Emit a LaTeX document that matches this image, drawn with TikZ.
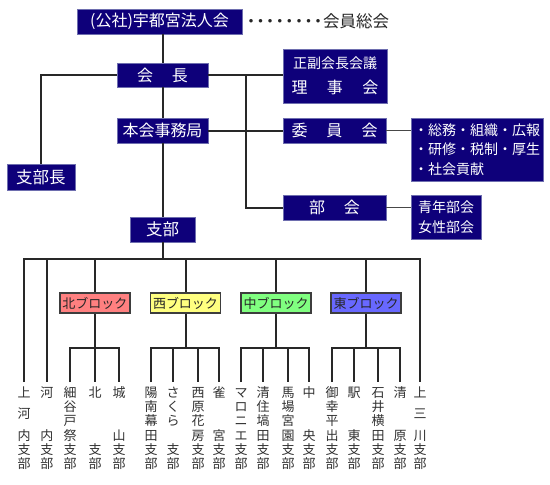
\documentclass[tikz,border=0pt]{standalone}
\usepackage{fontspec}
\setmainfont{Noto Sans CJK JP}
\definecolor{navyfill}{RGB}{14,0,122}
\definecolor{navyedge}{RGB}{110,110,175}
\definecolor{linec}{RGB}{40,40,40}
\definecolor{leafc}{RGB}{50,50,50}
\definecolor{northc}{RGB}{255,128,128}
\definecolor{westc}{RGB}{255,255,128}
\definecolor{midc}{RGB}{128,255,128}
\definecolor{eastc}{RGB}{104,104,255}
\newcommand{\agmdot}{\makebox[9.6pt]{・}}
\newcommand{\lfs}{\rule{0pt}{12pt}}
\begin{document}
\begin{tikzpicture}[x=1pt,y=-1pt,
  navybox/.style={fill=navyfill, draw=navyedge, line width=0.8pt, text=white, inner sep=0pt, font=\fontsize{16}{16}\selectfont},
  conn/.style={draw=linec, line width=2pt, line join=miter},
  thinconn/.style={draw=linec!85, line width=1.1pt},
  blockbox/.style={draw=linec!90, line width=1.6pt, minimum width=70pt, minimum height=20pt, inner sep=0pt, text=black!85, font=\fontsize{13}{13}\selectfont},
  leaf/.style={anchor=north, inner sep=0pt, text=leafc, align=center, font=\fontsize{13}{14.27}\selectfont}]
\fill[white] (0,0) rectangle (550,485);
\useasboundingbox (0,0) rectangle (550,485);

% upper nodes
\node[navybox, minimum width=165pt, minimum height=25pt] (top) at (159.5,21.5) {(公社)宇都宮法人会};
\node[anchor=west, inner sep=0pt, text=black!85, font=\fontsize{16.5}{16.5}\selectfont] (agm) at (246,21.5) {\agmdot\agmdot\agmdot\agmdot\agmdot\agmdot\agmdot\agmdot 会員総会};
\node[navybox, minimum width=91pt, minimum height=24pt] (chair) at (162.5,75) {会\hspace{19pt}長};
\node[navybox, minimum width=104pt, minimum height=54pt, align=center, font=\fontsize{14}{25}\selectfont] (vice) at (335,76) {正副会長会議\\{\fontsize{16}{25}\selectfont 理\hspace{19.5pt}事\hspace{19.5pt}会}};
\node[navybox, minimum width=91pt, minimum height=25pt] (office) at (162.5,130.5) {本会事務局};
\node[navybox, minimum width=103pt, minimum height=25pt] (comm) at (334.5,130.5) {委\hspace{19pt}員\hspace{19pt}会};
\node[navybox, minimum width=103pt, minimum height=25pt] (bukai) at (334.5,207.5) {部\hspace{19pt}会};
\node[navybox, minimum width=132pt, minimum height=63pt, text width=126pt, inner xsep=3pt, align=left, font=\fontsize{14}{19.5}\selectfont] (commlist) at (477,149.5) {・総務・組織・広報\\・研修・税制・厚生\\・社会貢献};
\node[navybox, minimum width=70pt, minimum height=44pt, align=center, font=\fontsize{14}{20}\selectfont] (bukailist) at (446,217) {青年部会\\女性部会};
\node[navybox, minimum width=68pt, minimum height=26pt, font=\fontsize{16.5}{16.5}\selectfont] (shibucho) at (41,177) {支部長};
\node[navybox, minimum width=65pt, minimum height=25pt, font=\fontsize{16.5}{16.5}\selectfont] (shibu) at (162.5,229.5) {支部};

\coordinate (jx) at (246,0);
\coordinate (busy) at (0,259);
\coordinate (suby) at (0,348);

% upper connectors
\draw[conn] (top.south -| chair.north) -- (chair.north);
\draw[conn] (chair.west) -| (shibucho.north);
\draw[conn] (chair.east) -- (chair.east -| vice.west);
\draw[conn] (chair.east -| jx) |- (bukai.west);
\draw[conn] (chair.south) -- (office.north);
\draw[conn] (office.south) -- (shibu.north);
\draw[conn] (office.east) -- (office.east -| comm.west);
\draw[thinconn] (comm.east) -- (comm.east -| commlist.west);
\draw[thinconn] (bukai.east) -- (bukai.east -| bukailist.west);
\draw[conn] (shibu.south) -- (shibu.south |- busy);

% blocks
\node[blockbox, fill=northc] (bN) at (95,303) {北ブロック};
\node[blockbox, fill=westc] (bW) at (185.5,303) {西ブロック};
\node[blockbox, fill=midc] (bC) at (276,303) {中ブロック};
\node[blockbox, fill=eastc] (bE) at (366,303) {東ブロック};

% leaves
\node[leaf] (lA) at (24,385) {\lfs 上\\[7.13pt]河\\[7.13pt]内\\支\\部};
\node[leaf] (lB) at (47,385) {\lfs 河\\[28.54pt]内\\支\\部};
\node[leaf] (n1) at (70,385) {\lfs 細\\谷\\戸\\祭\\支\\部};
\node[leaf] (n2) at (95,385) {\lfs 北\\[42.81pt]支\\部};
\node[leaf] (n3) at (119,385) {\lfs 城\\[28.54pt]山\\支\\部};
\node[leaf] (w1) at (151,385) {\lfs 陽\\南\\幕\\田\\支\\部};
\node[leaf] (w2) at (173,385) {\lfs さ\\く\\ら\\[14.27pt]支\\部};
\node[leaf] (w3) at (198,385) {\lfs 西\\原\\花\\房\\支\\部};
\node[leaf] (w4) at (219,385) {\lfs 雀\\[28.54pt]宮\\支\\部};
\node[leaf] (c1) at (241,385) {\lfs マ\\ロ\\ニ\\エ\\支\\部};
\node[leaf] (c2) at (263,385) {\lfs 清\\住\\塙\\田\\支\\部};
\node[leaf] (c3) at (288,385) {\lfs 馬\\場\\宮\\園\\支\\部};
\node[leaf] (c4) at (309,385) {\lfs 中\\[28.54pt]央\\支\\部};
\node[leaf] (e1) at (332,385) {\lfs 御\\幸\\平\\出\\支\\部};
\node[leaf] (e2) at (354,385) {\lfs 駅\\[28.54pt]東\\支\\部};
\node[leaf] (e3) at (378,385) {\lfs 石\\井\\横\\田\\支\\部};
\node[leaf] (e4) at (400,385) {\lfs 清\\[28.54pt]原\\支\\部};
\node[leaf] (lS) at (420,385) {\lfs 上\\[7.13pt]三\\[7.13pt]川\\支\\部};

% main bus
\draw[conn] ([yshift=3pt]lA.north) -- (lA.north |- busy) -- (lS.north |- busy) -- ([yshift=3pt]lS.north);
\draw[conn] (lB.north |- busy) -- ([yshift=3pt]lB.north);
\foreach \b in {bN,bW,bC,bE}{\draw[conn] (\b.north |- busy) -- (\b.north);}

% sub buses
\draw[conn] ([yshift=3pt]n1.north) -- (n1.north |- suby) -- (n3.north |- suby) -- ([yshift=3pt]n3.north);
\draw[conn] (bN.south) -- (bN.south |- suby);
\draw[conn] (n2.north |- suby) -- ([yshift=3pt]n2.north);

\draw[conn] ([yshift=3pt]w1.north) -- (w1.north |- suby) -- (w4.north |- suby) -- ([yshift=3pt]w4.north);
\draw[conn] (bW.south) -- (bW.south |- suby);
\foreach \l in {w2,w3}{\draw[conn] (\l.north |- suby) -- ([yshift=3pt]\l.north);}

\draw[conn] ([yshift=3pt]c1.north) -- (c1.north |- suby) -- (c4.north |- suby) -- ([yshift=3pt]c4.north);
\draw[conn] (bC.south) -- (bC.south |- suby);
\foreach \l in {c2,c3}{\draw[conn] (\l.north |- suby) -- ([yshift=3pt]\l.north);}

\draw[conn] ([yshift=3pt]e1.north) -- (e1.north |- suby) -- (e4.north |- suby) -- ([yshift=3pt]e4.north);
\draw[conn] (bE.south) -- (bE.south |- suby);
\foreach \l in {e2,e3}{\draw[conn] (\l.north |- suby) -- ([yshift=3pt]\l.north);}
\end{tikzpicture}
\end{document}
